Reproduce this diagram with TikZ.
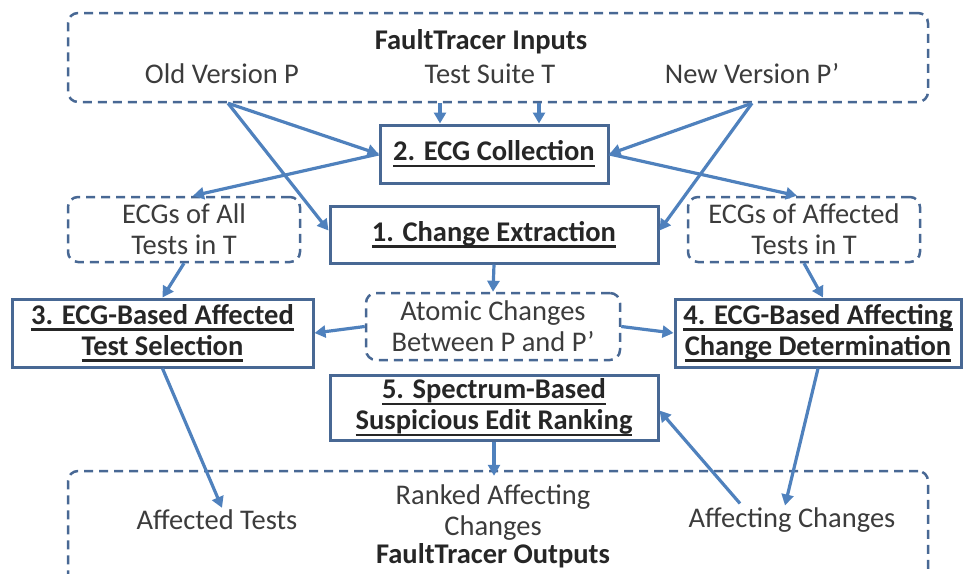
\documentclass[tikz,border=0pt]{standalone}
\usepackage{fontspec}
\setmainfont{Carlito}
\usetikzlibrary{arrows.meta,calc}
\definecolor{boxc}{RGB}{72,104,148}
\definecolor{arrc}{RGB}{79,129,189}
\definecolor{txtc}{RGB}{60,60,60}
\newcommand\myul[1]{\setbox0\hbox{#1}\rlap{\rule[-6.5pt]{\wd0}{2.6pt}}\box0}
\begin{document}
\begin{tikzpicture}[x=1pt,y=-1pt,
  base/.style={font=\fontsize{28.5}{31}\selectfont, text=txtc, inner sep=0pt, align=center},
  title/.style={base, font=\fontsize{28.5}{31}\selectfont\bfseries, text=black!85},
  wh/.style 2 args={minimum width=#1pt, minimum height=#2pt},
  sbox/.style={title, draw=boxc, line width=3pt},
  dbox/.style={base, draw=boxc, line width=2.5pt, dash pattern=on 9pt off 6pt, rounded corners=10pt},
  arr/.style={draw=arrc, line width=3.2pt, -{Triangle[length=11pt,width=12pt]}}
]
\clip (0,0) rectangle (963,573);
% inputs
\node[dbox, wh={860}{89}] (inputs) at (498,57.5) {};
\node[title] (intitle) at (481,42) {FaultTracer Inputs};
\node[base] (oldp) at (222,74) {Old Version P};
\node[base] (tsuite) at (490,74) {Test Suite T};
\node[base] (newp) at (752,74) {New Version P’};
% boxes
\node[sbox, wh={228}{58}] (ecgc) at (494,154) {\myul{2. ECG Collection}};
\node[sbox, wh={328}{57}] (chx) at (494,234.5) {\myul{1. Change Extraction}};
\node[dbox, wh={232}{65}] (ecgall) at (184,229.5) {ECGs of All\\Tests in T};
\node[dbox, wh={232}{65}] (ecgaff) at (804,229.5) {ECGs of Affected\\Tests in T};
\node[sbox, wh={301}{68}] (sel) at (162.5,333) {\myul{3. ECG-Based Affected}\\\myul{Test Selection}};
\node[dbox, wh={254}{67}] (atom) at (493,326.5) {Atomic Changes\\Between P and P’};
\node[sbox, wh={286}{68}] (det) at (818,333) {\myul{4. ECG-Based Affecting}\\\myul{Change Determination}};
\node[sbox, wh={328}{65}] (rank) at (494,407.5) {\myul{5. Spectrum-Based}\\\myul{Suspicious Edit Ranking}};
% outputs
\node[dbox, wh={860}{138}] (outputs) at (498,540) {};
\node[base] (afft) at (217,520) {Affected Tests};
\node[base] (rac) at (493,513) {Ranked Affecting\\Changes};
\node[title] (outtitle) at (493,556) {FaultTracer Outputs};
\node[base] (affc) at (792,520) {Affecting Changes};
% coordinates
\coordinate (os) at ($(oldp |- inputs.south)+(6,0)$);
\coordinate (ns) at (newp |- inputs.south);
\coordinate (t1) at ($(ecgc.north)+(-54,0)$);
\coordinate (t2) at ($(ecgc.north)+(45,0)$);
% arrows
\draw[arr] (t1 |- inputs.south) -- (t1);
\draw[arr] (t2 |- inputs.south) -- (t2);
\draw[arr] (os) -- (ecgc.west);
\draw[arr] (os) -- ($(chx.west)+(0,-4)$);
\draw[arr] (ns) -- (ecgc.east);
\draw[arr] (ns) -- ($(chx.east)+(0,-4)$);
\draw[arr] (ecgc.west) -- ($(ecgall.north)+(9,0)$);
\draw[arr] (ecgc.east) -- ($(ecgaff.north)+(-7,0)$);
\draw[arr] (ecgall.south) -- (sel.north);
\draw[arr] (ecgaff.south) -- ($(det.north)+(5,0)$);
\draw[arr] (chx.south) -- (atom.north);
\draw[arr] (atom.west) -- (sel.east);
\draw[arr] (atom.east) -- (det.west);
\draw[arr] (sel.south) -- ($(afft.north)+(5,-2)$);
\draw[arr] (det.south) -- ($(affc.north)+(-7,-2)$);
\draw[arr] ($(affc.north)+(-52,-4)$) -- ($(rank.east)+(0,3)$);
\draw[arr] (rank.south) -- ($(outputs.north)+(-4,6)$);
\end{tikzpicture}
\end{document}
